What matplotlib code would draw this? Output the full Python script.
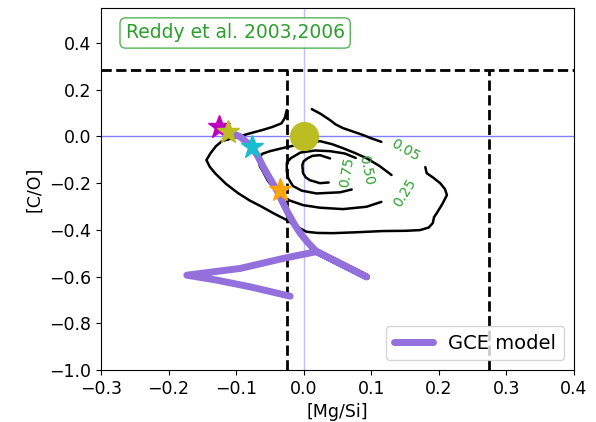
import matplotlib
matplotlib.use('Agg')
import matplotlib.pyplot as plt

#%% GCE model track in [Mg/Si] vs [C/O]
gce_mgsi = [-0.129, -0.112, -0.094, -0.077, -0.068, -0.060, -0.050, -0.040,
            -0.032, -0.023, -0.014, -0.005, 0.007, 0.019, 0.093, 0.019,
            -0.030, -0.094, -0.173, -0.129, -0.079, -0.020]
gce_co = [0.042, 0.020, -0.001, -0.044, -0.084, -0.130, -0.180, -0.229,
          -0.277, -0.329, -0.375, -0.415, -0.457, -0.493, -0.601, -0.493,
          -0.522, -0.565, -0.594, -0.615, -0.644, -0.684]

# stars along the model track
star_mgsi = [-0.126, -0.112, -0.077, -0.035]
star_co = [0.042, 0.020, -0.044, -0.228]
star_colors = ['m', '#bcbd22', '#17becf', 'orange']

# solar reference
sun_mgsi, sun_co = 0.0, 0.0

# box limits
co_cut = 0.285
mgsi_lo, mgsi_hi = -0.025, 0.275

#%% density contours of the Reddy et al. sample (traced, label gaps left open)
c05_a_x = [-0.025, -0.028, -0.033, -0.047, -0.062, -0.080, -0.097, -0.121,
           -0.130, -0.138, -0.144, -0.139, -0.131, -0.115, -0.097, -0.080,
           -0.062, -0.044, -0.025, -0.010, 0.004, 0.020, 0.043, 0.080, 0.117,
           0.150, 0.172, 0.185, 0.191, 0.193, 0.197, 0.205, 0.212, 0.209,
           0.202, 0.192, 0.182, 0.180]
c05_a_y = [0.113, 0.079, 0.056, 0.040, 0.027, 0.013, -0.001, -0.020,
           -0.042, -0.072, -0.101, -0.130, -0.158, -0.203, -0.243, -0.274,
           -0.301, -0.330, -0.358, -0.386, -0.408, -0.413, -0.414, -0.410,
           -0.405, -0.404, -0.401, -0.390, -0.371, -0.345, -0.328, -0.290,
           -0.251, -0.225, -0.200, -0.177, -0.157, -0.131]
c05_b_x = [0.115, 0.100, 0.088, 0.072, 0.058, 0.047, 0.039, 0.025, 0.012]
c05_b_y = [-0.023, -0.008, 0.006, 0.022, 0.036, 0.052, 0.070, 0.097, 0.117]

c25_x = [0.115, 0.093, 0.058, 0.024, -0.001, -0.023, -0.035, -0.044, -0.053,
         -0.059, -0.065, -0.066, -0.062, -0.050, -0.033, -0.016, 0.005,
         0.024, 0.042, 0.058, 0.076, 0.093, 0.112, 0.130]
c25_y = [-0.280, -0.301, -0.311, -0.305, -0.294, -0.272, -0.250, -0.221,
         -0.190, -0.157, -0.127, -0.101, -0.075, -0.063, -0.051, -0.040,
         -0.028, -0.020, -0.033, -0.050, -0.071, -0.093, -0.126, -0.165]

c50_x = [0.077, 0.061, 0.039, 0.017, -0.005, -0.019, -0.025, -0.025, -0.023,
         -0.016, -0.003, 0.019, 0.054, 0.071]
c50_y = [-0.092, -0.073, -0.063, -0.060, -0.069, -0.093, -0.112, -0.150,
         -0.178, -0.212, -0.232, -0.244, -0.239, -0.227]

c75_x = [0.039, 0.024, 0.013, 0.006, 0.000, -0.002, -0.001, 0.003, 0.009,
         0.024, 0.037]
c75_y = [-0.094, -0.080, -0.083, -0.093, -0.106, -0.122, -0.157, -0.175,
         -0.187, -0.200, -0.197]

levels = ['0.05', '0.25', '0.50', '0.75']
level_x = [0.151, 0.149, 0.092, 0.064]
level_y = [-0.060, -0.242, -0.144, -0.152]
level_rot = [-30, 58, -78, 80]

#%%
fig = plt.figure(figsize=(5.96, 4.22), dpi=100)
ax = fig.add_axes([0.1695, 0.1232, 0.7935, 0.8578])

ax.axhline(0, color='b', alpha=0.5, lw=1, zorder=1)
ax.axvline(0, color='b', alpha=0.25, lw=1, zorder=1)

# contours
for cx, cy in [(c05_a_x, c05_a_y), (c05_b_x, c05_b_y), (c25_x, c25_y),
               (c50_x, c50_y), (c75_x, c75_y)]:
    ax.plot(cx, cy, color='k', lw=1.8, zorder=2,
            solid_capstyle='round', solid_joinstyle='round')
for lab, lx, ly, rot in zip(levels, level_x, level_y, level_rot):
    ax.text(lx, ly, lab, color='#2ca02c', fontsize=10, rotation=rot,
            ha='center', va='center', zorder=2)

# selection box
ax.axhline(co_cut, color='k', ls='--', lw=2, zorder=3)
ax.plot([mgsi_lo, mgsi_lo], [-1.0, co_cut], color='k', ls='--', lw=2, zorder=3)
ax.plot([mgsi_hi, mgsi_hi], [-1.0, co_cut], color='k', ls='--', lw=2, zorder=3)

ax.plot(gce_mgsi, gce_co, color='mediumpurple', lw=5,
        solid_capstyle='round', solid_joinstyle='round', label='GCE model', zorder=4)
for sx, sy, sc in zip(star_mgsi, star_co, star_colors):
    ax.plot(sx, sy, marker='*', ms=17, color=sc, ls='None', zorder=5)
ax.plot(sun_mgsi, sun_co, marker='o', ms=20, color='#bcbd22', ls='None', zorder=5)

ax.text(0.052, 0.931, 'Reddy et al. 2003,2006', transform=ax.transAxes,
        color='#2ca02c', fontsize=13.5, ha='left', va='center',
        bbox=dict(boxstyle='round,pad=0.3', fc='white', ec='#2ca02c', alpha=0.8))

ax.set_xlim(-0.3, 0.4)
ax.set_ylim(-1.0, 0.55)
ax.set_xticks([-0.3, -0.2, -0.1, 0.0, 0.1, 0.2, 0.3, 0.4])
ax.set_yticks([-1.0, -0.8, -0.6, -0.4, -0.2, 0.0, 0.2, 0.4])
ax.tick_params(labelsize=12.5)
ax.set_xlabel('[Mg/Si]', fontsize=12.5)
ax.set_ylabel('[C/O]', fontsize=12.5)
ax.legend(loc='lower right', fontsize=14)

plt.savefig('out.png', dpi=100)
